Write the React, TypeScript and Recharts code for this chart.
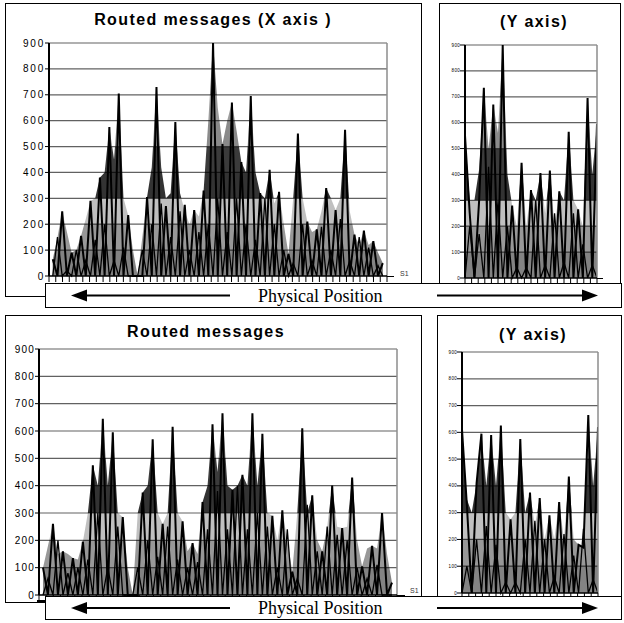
import React from 'react';
import { Area, ComposedChart, ReferenceLine, XAxis, YAxis } from 'recharts';

// value levels on the vertical axis (one colour band between each pair)
const levels = [0, 100, 200, 300, 400, 500, 600, 700, 800, 900];
const bandColors = ['#838383', '#989898', '#c0c0c0', '#333333', '#3b3b3b', '#8a8a8a', '#9c9c9c', '#727272', '#5e5e5e'];

// Routed messages (X axis) - top left
const xBack = [
  65, 150, 250, 170, 90, 100, 155, 220, 290, 300,
  380, 400, 575, 450, 705, 300, 235, 100, 0, 150,
  305, 420, 730, 420, 300, 320, 595, 320, 250, 200,
  255, 230, 330, 600, 900, 650, 510, 600, 670, 560,
  440, 400, 695, 400, 320, 300, 410, 280, 325, 200,
  85, 300, 550, 300, 210, 170, 180, 250, 340, 300,
  255, 300, 565, 250, 160, 120, 175, 120, 135, 90,
  50,
];
const xFront = [
  65, 0, 250, 0, 90, 0, 155, 0, 290, 0,
  380, 0, 575, 0, 705, 0, 235, 0, 0, 0,
  305, 0, 730, 0, 270, 0, 595, 0, 275, 0,
  255, 0, 330, 0, 900, 0, 510, 0, 670, 0,
  440, 0, 695, 0, 320, 0, 410, 0, 325, 0,
  85, 0, 550, 0, 210, 0, 180, 0, 340, 0,
  255, 0, 565, 0, 160, 0, 175, 0, 135, 0,
  50,
];
const xCross = [
  0, 150, 0, 20, 0, 100, 0, 60, 0, 140,
  0, 200, 0, 60, 0, 110, 0, 0, 0, 100,
  0, 200, 0, 280, 0, 150, 0, 250, 0, 100,
  0, 170, 0, 200, 0, 300, 0, 170, 0, 300,
  0, 200, 0, 140, 0, 300, 0, 200, 0, 100,
  0, 50, 0, 200, 0, 60, 0, 190, 0, 100,
  0, 220, 0, 60, 0, 150, 0, 110, 0, 40,
  0,
];

// (Y axis) - top right
const yBack = [550, 300, 300, 420, 735, 500, 670, 560, 900, 400, 280, 200, 445, 200, 340, 300, 405, 250, 415, 200, 335, 300, 565, 300, 265, 200, 695, 400, 595];
const yFront = [550, 250, 0, 300, 735, 0, 670, 0, 900, 0, 280, 0, 445, 0, 340, 0, 405, 0, 415, 0, 335, 0, 565, 0, 265, 0, 695, 0, 595];
const yCross = [0, 200, 0, 170, 0, 430, 0, 300, 0, 200, 0, 40, 0, 40, 0, 300, 0, 50, 0, 250, 0, 60, 0, 250, 0, 130, 0, 50, 0];

// Routed messages - bottom left
const mBack = [
  100, 180, 260, 150, 160, 150, 135, 130, 195, 300,
  475, 400, 645, 400, 595, 300, 285, 100, 0, 300,
  375, 400, 570, 300, 260, 300, 615, 300, 270, 160,
  190, 150, 340, 400, 625, 450, 665, 400, 385, 400,
  440, 400, 665, 400, 590, 300, 290, 200, 310, 200,
  85, 300, 610, 300, 365, 200, 160, 250, 400, 250,
  245, 250, 430, 200, 105, 170, 180, 170, 300, 150,
  45,
];
const mFront = [
  100, 0, 260, 0, 160, 0, 135, 0, 195, 0,
  475, 0, 645, 0, 595, 0, 285, 0, 0, 0,
  375, 0, 570, 0, 260, 0, 615, 0, 270, 0,
  190, 0, 340, 0, 625, 0, 665, 0, 385, 0,
  440, 0, 665, 0, 590, 0, 290, 0, 310, 0,
  85, 0, 610, 0, 365, 0, 160, 0, 400, 0,
  245, 0, 430, 0, 105, 0, 180, 0, 300, 0,
  45,
];
const mCross = [
  0, 60, 0, 200, 0, 80, 0, 100, 0, 130,
  0, 300, 0, 100, 0, 250, 0, 0, 0, 100,
  0, 200, 0, 140, 0, 250, 0, 130, 0, 100,
  0, 120, 0, 240, 0, 380, 0, 240, 0, 400,
  0, 240, 0, 300, 0, 250, 0, 100, 0, 240,
  0, 60, 0, 330, 0, 160, 0, 250, 0, 220,
  0, 200, 0, 100, 0, 60, 0, 110, 0, 0,
  0,
];

// (Y axis) - bottom right
const nBack = [610, 350, 300, 410, 595, 400, 590, 400, 625, 300, 275, 300, 575, 300, 375, 250, 355, 200, 290, 200, 340, 200, 435, 200, 180, 170, 665, 400, 620];
const nFront = [610, 330, 0, 410, 595, 0, 590, 0, 625, 0, 275, 0, 575, 0, 375, 0, 355, 0, 290, 0, 340, 0, 435, 0, 180, 170, 665, 0, 620];
const nCross = [0, 100, 0, 200, 0, 250, 0, 180, 0, 40, 0, 40, 0, 200, 0, 270, 0, 200, 0, 60, 0, 220, 0, 140, 0, 240, 0, 50, 0];

const sans = '"Liberation Sans", Arial, sans-serif';
const serif = '"Liberation Serif", "Times New Roman", serif';

type Box = { left: number; top: number; width: number; height: number };
type Plot = { left: number; right: number; top: number; bottom: number };

interface SurfaceProps {
  id: string;
  chart: Box;
  plot: Plot;
  xHeight: number;
  back: number[];
  front: number[];
  cross: number[];
  pad: [number, number];
  tickCount: number;
  labelSize: number;
  labelSpacing: number;
  yTick: number;
}

// small tick mark hanging under the category axis (no label)
const TickMark = (props: any) => {
  const { x, y } = props;
  return <line x1={x} y1={y} x2={x} y2={y + 6} stroke="#000" strokeWidth={1} />;
};

const SurfaceChart: React.FC<SurfaceProps> = ({ id, chart, plot, xHeight, back, front, cross, pad, tickCount, labelSize, labelSpacing, yTick }) => {
  const n = back.length;
  const data = back.map((v, i) => ({ i, back: v, front: front[i], cross: cross[i] }));
  const xMin = -pad[0];
  const xMax = n - 1 + pad[1];
  const xTicks = Array.from({ length: tickCount }, (_, k) => xMin + ((xMax - xMin) * k) / (tickCount - 1));
  const margin = {
    top: plot.top - chart.top,
    right: chart.left + chart.width - plot.right,
    bottom: chart.top + chart.height - plot.bottom - xHeight,
    left: 0,
  };
  const gy1 = plot.bottom - chart.top;
  const gy2 = plot.top - chart.top;

  return (
    <div style={{ position: 'absolute', left: chart.left, top: chart.top }}>
      <ComposedChart width={chart.width} height={chart.height} data={data} margin={margin}>
        <defs>
          <linearGradient id={id} gradientUnits="userSpaceOnUse" x1={0} y1={gy1} x2={0} y2={gy2}>
            {bandColors.flatMap((c, k) => [
              <stop key={`${k}a`} offset={k / 9} stopColor={c} />,
              <stop key={`${k}b`} offset={(k + 1) / 9} stopColor={c} />,
            ])}
          </linearGradient>
        </defs>
        <XAxis
          type="number"
          dataKey="i"
          domain={[xMin, xMax]}
          ticks={xTicks}
          interval={0}
          allowDataOverflow
          tick={<TickMark />}
          tickLine={false}
          tickSize={0}
          tickMargin={0}
          height={xHeight}
          axisLine={{ stroke: '#000', strokeWidth: 1.5 }}
        />
        <YAxis
          type="number"
          domain={[0, 900]}
          ticks={levels}
          interval={0}
          width={plot.left - chart.left}
          tickSize={yTick}
          tickMargin={0}
          axisLine={{ stroke: '#000', strokeWidth: 2 }}
          tickLine={{ stroke: '#000' }}
          tick={{ fill: '#000', fontSize: labelSize, fontFamily: sans, letterSpacing: labelSpacing }}
        />
        <Area type="linear" dataKey="back" stroke="none" fill={`url(#${id})`} fillOpacity={1} dot={false} activeDot={false} isAnimationActive={false} />
        <Area type="linear" dataKey="front" stroke="#000" strokeWidth={2} fill={`url(#${id})`} fillOpacity={1} dot={false} activeDot={false} isAnimationActive={false} />
        <Area type="linear" dataKey="cross" stroke="#000" strokeWidth={1.3} fill="none" dot={false} activeDot={false} isAnimationActive={false} />
        {levels.slice(1).map((v) => (
          <ReferenceLine key={v} y={v} stroke="#000" strokeOpacity={0.62} strokeWidth={1.2} />
        ))}
        <ReferenceLine x={xMax} stroke="#8c8c8c" strokeWidth={1.5} />
      </ComposedChart>
    </div>
  );
};

const Title: React.FC<{ text: string; cx: number; cy: number }> = ({ text, cx, cy }) => (
  <div
    style={{
      position: 'absolute',
      left: cx - 160,
      top: cy - 10,
      width: 320,
      lineHeight: '20px',
      textAlign: 'center',
      fontFamily: sans,
      fontWeight: 700,
      fontSize: 16,
      letterSpacing: 1.4,
      color: '#000',
    }}
  >
    {text}
  </div>
);

const ArrowBox: React.FC<{ top: number; height: number }> = ({ top, height }) => {
  const w = 577;
  const cy = height / 2;
  return (
    <div style={{ position: 'absolute', left: 45, top, width: w, height, boxSizing: 'border-box', border: '1.5px solid #000', background: '#fff' }}>
      <svg width={w} height={height} style={{ position: 'absolute', left: -1.5, top: -1.5 }}>
        <line x1={38} y1={cy} x2={185} y2={cy} stroke="#000" strokeWidth={2} />
        <polygon points={`26,${cy} 42,${cy - 6} 42,${cy + 6}`} fill="#000" />
        <text x={213} y={cy + 6} fontFamily={serif} fontSize={18} fill="#000">
          Physical Position
        </text>
        <line x1={392} y1={cy} x2={541} y2={cy} stroke="#000" strokeWidth={2} />
        <polygon points={`553,${cy} 537,${cy - 6} 537,${cy + 6}`} fill="#000" />
      </svg>
    </div>
  );
};

const panelStyle = (left: number, top: number, width: number, height: number): React.CSSProperties => ({
  position: 'absolute',
  left,
  top,
  width,
  height,
  boxSizing: 'border-box',
  border: '1.5px solid #000',
  background: '#fff',
});

const hLine = (left: number, top: number, width: number): React.CSSProperties => ({
  position: 'absolute',
  left,
  top,
  width,
  height: 1.5,
  background: '#000',
});

export default function App() {
  return (
    <div style={{ position: 'absolute', left: 0, top: 0, width: 624, height: 623, background: '#fff', overflow: 'hidden' }}>
      <div style={panelStyle(5, 3, 417, 294)} />
      <div style={panelStyle(439, 3, 182, 294)} />
      <div style={panelStyle(5, 315, 417, 288)} />
      <div style={panelStyle(437, 315, 185, 288)} />

      <Title text="Routed messages (X axis )" cx={213} cy={20} />
      <Title text="(Y axis)" cx={534} cy={22} />
      <Title text="Routed messages" cx={206} cy={332} />
      <Title text="(Y axis)" cx={533} cy={335} />

      <SurfaceChart
        id="bandsTL"
        chart={{ left: 6, top: 30, width: 412, height: 258 }}
        plot={{ left: 49, right: 387, top: 43, bottom: 276 }}
        xHeight={8}
        back={xBack}
        front={xFront}
        cross={xCross}
        pad={[0.8, 0.9]}
        tickCount={51}
        labelSize={10}
        labelSpacing={1.8}
        yTick={4}
      />
      <SurfaceChart
        id="bandsTR"
        chart={{ left: 441, top: 32, width: 170, height: 255 }}
        plot={{ left: 465, right: 597, top: 45, bottom: 278 }}
        xHeight={8}
        back={yBack}
        front={yFront}
        cross={yCross}
        pad={[0, 0]}
        tickCount={21}
        labelSize={4.5}
        labelSpacing={0.3}
        yTick={5}
      />
      <SurfaceChart
        id="bandsBL"
        chart={{ left: 6, top: 340, width: 412, height: 262 }}
        plot={{ left: 39, right: 397, top: 349, bottom: 595 }}
        xHeight={6}
        back={mBack}
        front={mFront}
        cross={mCross}
        pad={[0.8, 1]}
        tickCount={51}
        labelSize={10}
        labelSpacing={1.2}
        yTick={4}
      />
      <SurfaceChart
        id="bandsBR"
        chart={{ left: 439, top: 343, width: 175, height: 256 }}
        plot={{ left: 462, right: 598, top: 352, bottom: 593 }}
        xHeight={6}
        back={nBack}
        front={nFront}
        cross={nCross}
        pad={[0, 0]}
        tickCount={21}
        labelSize={4.5}
        labelSpacing={0.3}
        yTick={5}
      />

      <div style={hLine(387, 275.5, 7)} />
      <div style={hLine(597, 277.5, 6)} />
      <div style={hLine(397, 594.5, 8)} />

      <div style={{ position: 'absolute', left: 400, top: 270, fontFamily: sans, fontSize: 7, color: '#333' }}>S1</div>
      <div style={{ position: 'absolute', left: 410, top: 587, fontFamily: sans, fontSize: 7, color: '#333' }}>S1</div>
      <div style={{ position: 'absolute', left: 37, top: 600, width: 9, height: 3, background: '#000' }} />

      <ArrowBox top={283} height={25} />
      <ArrowBox top={596} height={24} />
    </div>
  );
}
